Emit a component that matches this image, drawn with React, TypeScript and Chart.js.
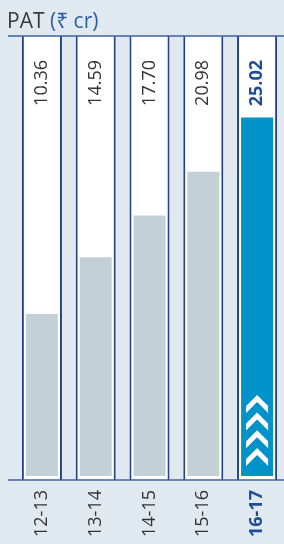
import React, { useEffect, useRef } from "react";
import { Chart, registerables } from "chart.js";

Chart.register(...registerables);

const categories = ["12-13", "13-14", "14-15", "15-16", "16-17"];
const patValues = [10.36, 14.59, 17.7, 20.98, 25.02];
const valueLabels = ["10.36", "14.59", "17.70", "20.98", "25.02"];
const titleMain = "PAT ";
const titleUnit = "(₹ cr)";

const Y_MIN = -2.03;
const Y_MAX = 31.1;
const BAR_BASE = -1.73;
const panelValues = categories.map(() => Y_MAX);

const BG = "#e1e9f0";
const GREY = "#c3d0d7";
const BLUE = "#0092c8";
const NAVY = "#23408c";
const LINE = "#3d5fa3";
const TEXT = "#333333";
const HILITE_TEXT = "#1f4e96";
const FONT = "'Open Sans', 'Noto Sans', sans-serif";

const decorPlugin = {
  id: "decor",
  beforeDraw(chart: any) {
    const { ctx, width, height } = chart;
    ctx.save();
    ctx.fillStyle = BG;
    ctx.fillRect(0, 0, width, height);
    ctx.restore();
  },
  afterDatasetsDraw(chart: any) {
    const { ctx, chartArea } = chart;
    const last = categories.length - 1;
    const barMeta = chart.getDatasetMeta(0);
    const panelMeta = chart.getDatasetMeta(1);

    // chevrons on highlighted bar
    const el = barMeta.data[last];
    if (el) {
      const props = el.getProps(["x", "base", "width"], true);
      const cx = props.x;
      const half = 11;
      const slope = 11;
      const thick = 7;
      const step = 17.7;
      ctx.save();
      ctx.fillStyle = "#ffffff";
      for (let i = 0; i < 4; i++) {
        const bottom = props.base - 10 - i * step;
        const apex = bottom - slope - thick;
        ctx.beginPath();
        ctx.moveTo(cx, apex);
        ctx.lineTo(cx + half, apex + slope);
        ctx.lineTo(cx + half, apex + slope + thick);
        ctx.lineTo(cx, apex + thick);
        ctx.lineTo(cx - half, apex + slope + thick);
        ctx.lineTo(cx - half, apex + slope);
        ctx.closePath();
        ctx.fill();
      }
      ctx.restore();
    }

    // horizontal lines
    ctx.save();
    ctx.strokeStyle = LINE;
    ctx.lineWidth = 1.6;
    [chartArea.top, chartArea.bottom].forEach((y: number) => {
      ctx.beginPath();
      ctx.moveTo(8, y);
      ctx.lineTo(chart.width, y);
      ctx.stroke();
    });
    ctx.restore();

    // value labels and category labels
    panelMeta.data.forEach((p: any, i: number) => {
      const x = p.x;
      const hi = i === last;
      ctx.save();
      ctx.fillStyle = hi ? HILITE_TEXT : TEXT;
      ctx.font = `${hi ? "bold " : ""}18px ${FONT}`;
      ctx.textAlign = "right";
      ctx.textBaseline = "middle";
      ctx.translate(x, chartArea.top + 24);
      ctx.rotate(-Math.PI / 2);
      ctx.fillText(valueLabels[i], 0, 0);
      ctx.restore();

      ctx.save();
      ctx.fillStyle = hi ? HILITE_TEXT : TEXT;
      ctx.font = `${hi ? "bold " : ""}18px ${FONT}`;
      ctx.textAlign = "right";
      ctx.textBaseline = "middle";
      ctx.translate(x, chartArea.bottom + 10);
      ctx.rotate(-Math.PI / 2);
      ctx.fillText(categories[i], 0, 0);
      ctx.restore();
    });

    // title
    ctx.save();
    ctx.font = `21px ${FONT}`;
    ctx.textAlign = "left";
    ctx.textBaseline = "alphabetic";
    ctx.fillStyle = "#3a3a3a";
    ctx.fillText(titleMain, 7, 28);
    const w = ctx.measureText(titleMain).width;
    ctx.fillStyle = "#2e5ea6";
    ctx.fillText(titleUnit, 7 + w, 28);
    ctx.restore();
  },
};

export default function App() {
  const ref = useRef<HTMLCanvasElement>(null);
  useEffect(() => {
    document.body.style.margin = "0";
    const canvas = ref.current;
    if (!canvas) return;
    const chart = new Chart(canvas, {
      type: "bar",
      data: {
        labels: categories,
        datasets: [
          {
            label: "PAT",
            data: patValues,
            base: BAR_BASE,
            backgroundColor: categories.map((_, i) => (i === categories.length - 1 ? BLUE : GREY)),
            borderWidth: 0,
            grouped: false,
            categoryPercentage: 1,
            barPercentage: 0.595,
            order: 1,
          } as any,
          {
            label: "panel",
            data: panelValues,
            base: Y_MIN,
            backgroundColor: "#ffffff",
            borderColor: NAVY,
            borderWidth: { left: 2, right: 2, top: 0, bottom: 0 },
            borderSkipped: false,
            grouped: false,
            categoryPercentage: 1,
            barPercentage: 0.744,
            order: 2,
          } as any,
        ],
      },
      options: {
        responsive: false,
        animation: false,
        devicePixelRatio: 1,
        layout: { padding: { left: 15, right: 0, top: 36, bottom: 64 } },
        plugins: { legend: { display: false }, tooltip: { enabled: false }, title: { display: false } },
        scales: {
          x: { display: false, offset: true },
          y: { display: false, min: Y_MIN, max: Y_MAX },
        },
      },
      plugins: [decorPlugin],
    });
    return () => chart.destroy();
  }, []);
  return (
    <div style={{ position: "absolute", left: 0, top: 0, width: 284, height: 544 }}>
      <canvas ref={ref} width={284} height={544} />
    </div>
  );
}
